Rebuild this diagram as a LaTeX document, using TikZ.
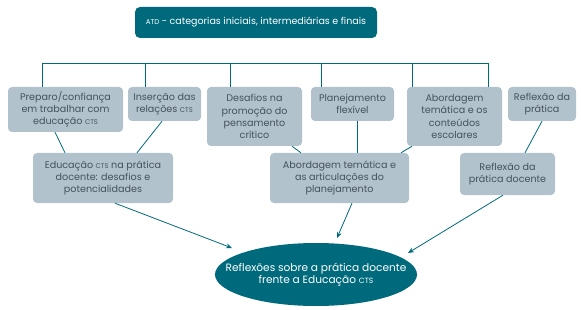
\documentclass[tikz,border=0pt]{standalone}
\usepackage{fontspec}
\setmainfont{Poppins}
\usetikzlibrary{arrows.meta,shapes.geometric}
\definecolor{teal1}{RGB}{0,106,125}
\definecolor{boxgray}{RGB}{178,194,204}
\definecolor{txtgray}{RGB}{68,82,92}
\newcommand\ctsx{{\fontsize{6.8}{7}\selectfont CTS}}
\newcommand\ctsy{{\fontsize{7.6}{7}\selectfont CTS}}
\newcommand\atdx{{\fontsize{7}{7}\selectfont ATD}}
\tikzset{
  catbox/.style={rectangle, rounded corners=4pt, fill=boxgray, text=txtgray,
    align=center, inner sep=1pt, font=\fontsize{9.6}{12.2}\selectfont},
  topbox/.style={rectangle, rounded corners=5pt, fill=teal1, text=white,
    align=center, inner sep=1pt, font=\fontsize{9.5}{12}\selectfont},
  finalnode/.style={ellipse, fill=teal1, text=white, align=center,
    inner xsep=-30pt, inner ysep=0pt, font=\fontsize{10.6}{12}\selectfont},
  link/.style={draw=teal1, line width=0.8pt},
  arr/.style={draw=teal1, line width=0.8pt, -{Stealth[length=6pt,width=5pt]}}
}
\begin{document}
\begin{tikzpicture}[x=1pt,y=-1pt]
\useasboundingbox (0,0) rectangle (581,310);
\node[topbox, minimum width=242pt, minimum height=31pt] (top) at (256,22.5)
  {\atdx\ - categorias iniciais, intermediárias e finais};
% row 1
\node[catbox, minimum width=115pt, minimum height=45pt] (b1) at (65.5,109.5)
  {Preparo/confiança\\em trabalhar com\\educação \ctsx};
\node[catbox, minimum width=73pt, minimum height=34pt] (b2) at (164.5,104)
  {Inserção das\\relações \ctsx};
\node[catbox, minimum width=95pt, minimum height=59pt] (b3) at (254.5,116.5)
  {Desafios na\\promoção do\\pensamento\\crítico};
\node[catbox, minimum width=83pt, minimum height=34pt] (b4) at (352.5,104)
  {Planejamento\\flexível};
\node[catbox, minimum width=95pt, minimum height=59pt] (b5) at (454.5,116.5)
  {Abordagem\\temática e os\\conteúdos\\escolares};
\node[catbox, minimum width=68pt, minimum height=34pt] (b6) at (542,104)
  {Reflexão da\\prática};
% row 2
\node[catbox, minimum width=140pt, minimum height=50pt] (b7) at (103,178)
  {Educação \ctsx\ na prática\\docente: desafios e\\potencialidades};
\node[catbox, minimum width=139pt, minimum height=50pt] (b8) at (339.5,178)
  {Abordagem temática e\\as articulações do\\planejamento};
\node[catbox, minimum width=95pt, minimum height=42pt] (b9) at (507.5,174)
  {Reflexão da\\prática docente};
% final
\node[finalnode, minimum width=202pt, minimum height=63pt] (fin) at (316,274.5)
  {Reflexões sobre a prática docente\\frente a Educação \ctsy};
% bracket line
\coordinate (h1) at (42,63);
\coordinate (h2) at (145,63);
\coordinate (h3) at (230,63);
\coordinate (h4) at (321,63);
\coordinate (h5) at (412,63);
\coordinate (h6) at (488,63);
\draw[link] (h1 |- b1.north) -- (h1) -- (h6) -- (h6 |- b6.north);
\draw[link] (h2) -- (h2 |- b2.north);
\draw[link] (h3) -- (h3 |- b3.north);
\draw[link] (h4) -- (h4 |- b4.north);
\draw[link] (h5) -- (h5 |- b5.north);
% row1 -> row2
\draw[link] ([xshift=-10.5pt]b1.south) -- ([xshift=-38pt]b7.north);
\draw[link] ([xshift=-2.5pt]b2.south) -- ([xshift=34pt]b7.north);
\draw[link] ([xshift=37.5pt]b3.south) -- ([xshift=-38.5pt]b8.north);
\draw[link] ([xshift=4.5pt]b4.south) -- ([xshift=17.5pt]b8.north);
\draw[link] ([xshift=-42.5pt]b5.south) -- ([xshift=61.5pt]b8.north);
\draw[link] (b6.south) -- ([xshift=17.5pt]b9.north);
% arrows to final
\coordinate (e1) at (232,248);
\coordinate (e2) at (337,238);
\coordinate (e3) at (408,253);
\draw[arr] ([xshift=12pt]b7.south) -- (e1);
\draw[arr] ([xshift=12.5pt]b8.south) -- (e2);
\draw[arr] ([xshift=-4.5pt]b9.south) -- (e3);
\end{tikzpicture}
\end{document}
